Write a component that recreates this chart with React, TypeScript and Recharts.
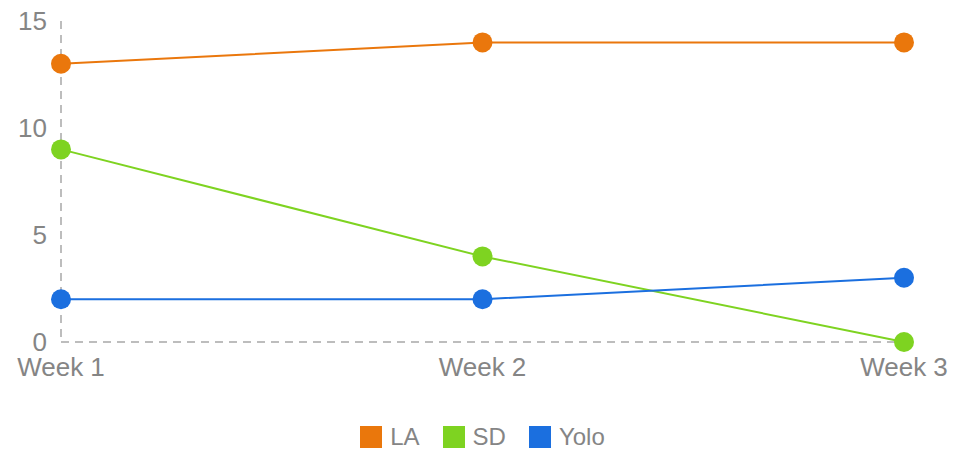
import React from "react";
import { LineChart, Line, XAxis, YAxis, Legend } from "recharts";

const weeks = ["Week 1", "Week 2", "Week 3"];
const la = [13, 14, 14];
const sd = [9, 4, 0];
const yolo = [2, 2, 3];
const yTicks = [0, 5, 10, 15];

const data = weeks.map((w, i) => ({ week: w, LA: la[i], SD: sd[i], Yolo: yolo[i] }));

const FONT = "'Liberation Sans', Arial, Helvetica, sans-serif";
const TICK_COLOR = "#858585";
const AXIS_COLOR = "#bdbdbd";

const series = [
  { key: "LA", color: "#EA770C" },
  { key: "SD", color: "#7ED321" },
  { key: "Yolo", color: "#1B6FDF" },
];

const renderLegend = () => (
  <div
    style={{
      display: "flex",
      justifyContent: "center",
      alignItems: "center",
      fontFamily: FONT,
      fontSize: 24,
      color: TICK_COLOR,
      gap: 23,
    }}
  >
    {series.map((s) => (
      <div key={s.key} style={{ display: "flex", alignItems: "center" }}>
        <div style={{ width: 22, height: 22, background: s.color, marginRight: 8 }} />
        <span>{s.key}</span>
      </div>
    ))}
  </div>
);

export default function App() {
  return (
    <div style={{ position: "absolute", left: 0, top: 0, fontFamily: FONT }}>
      <LineChart
        width={957}
        height={450}
        data={data}
        margin={{ top: 21, right: 53, left: 0, bottom: 0 }}
      >
        <XAxis
          dataKey="week"
          axisLine={{ stroke: AXIS_COLOR, strokeWidth: 2, strokeDasharray: "8 6" }}
          tickLine={false}
          tick={{ fill: TICK_COLOR, fontSize: 26, fontFamily: FONT }}
          tickMargin={10}
          height={78}
          interval={0}
        />
        <YAxis
          domain={[0, 15]}
          ticks={yTicks}
          width={61}
          axisLine={{ stroke: AXIS_COLOR, strokeWidth: 2, strokeDasharray: "8 6" }}
          tickLine={false}
          tick={{ fill: TICK_COLOR, fontSize: 26, fontFamily: FONT }}
          tickMargin={8}
        />
        <Legend
          verticalAlign="bottom"
          content={renderLegend}
          wrapperStyle={{ bottom: -3, height: 30, left: 61, width: 843 }}
        />
        {series.map((s) => (
          <Line
            key={s.key}
            type="linear"
            dataKey={s.key}
            stroke={s.color}
            strokeWidth={2}
            dot={{ r: 10, fill: s.color, stroke: s.color, strokeWidth: 0 }}
            activeDot={false}
            isAnimationActive={false}
          />
        ))}
      </LineChart>
    </div>
  );
}
